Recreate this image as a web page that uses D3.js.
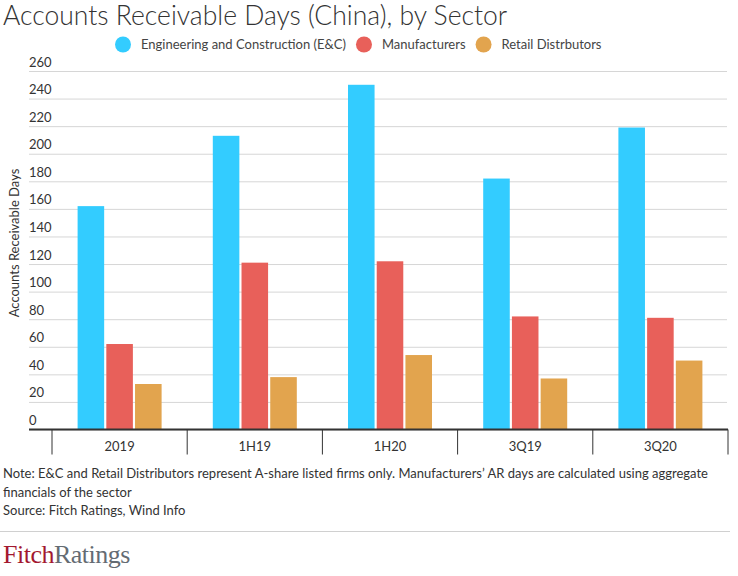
<!DOCTYPE html>
<html>
<script src="https://d3js.org/d3.v7.min.js"></script>

<head>
    <style>
        body {
            margin: 0;
            background-color: #fff;
            font-family: Lato, "Open Sans", sans-serif;
        }

        svg {
            display: block;
        }
    </style>
</head>

<body>
</body>
<script>
    const width = 738,
        height = 576;

    const periods = ["2019", "1H19", "1H20", "3Q19", "3Q20"];
    const series = ["Engineering and Construction (E&C)", "Manufacturers", "Retail Distrbutors"];
    const colors = ["#33ccff", "#e8605a", "#e2a44e"];
    const ecDays = [162, 213, 250, 182, 219];
    const mfrDays = [62, 121, 122, 82, 81];
    const retailDays = [33, 38, 54, 37, 50];
    const yTicks = [0, 20, 40, 60, 80, 100, 120, 140, 160, 180, 200, 220, 240, 260];

    const values = [ecDays, mfrDays, retailDays];
    const data = periods.map((p, i) => ({
        period: p,
        vals: series.map((s, j) => ({ key: s, value: values[j][i] }))
    }));

    const svg = d3.select("body").append("svg").attr("width", width).attr("height", height);

    const y = d3.scaleLinear()
        .domain([0, 260])
        .range([429.5, 71]);
    const x0 = d3.scaleBand()
        .domain(periods)
        .range([52, 728])
        .padding(0);
    const x1 = d3.scaleBand()
        .domain(series)
        .range([-42, 42])
        .paddingInner(0.075);
    const color = d3.scaleOrdinal().domain(series).range(colors);

    // title
    svg.append("text")
        .attr("x", 3)
        .attr("y", 25)
        .attr("font-size", "26.5px")
        .attr("font-weight", 300)
        .attr("fill", "#333")
        .text("Accounts Receivable Days (China), by Sector");

    // legend
    let lx = 115;
    series.forEach(s => {
        svg.append("circle")
            .attr("cx", lx + 8)
            .attr("cy", 44.5)
            .attr("r", 8)
            .attr("fill", color(s));
        const t = svg.append("text")
            .attr("x", lx + 26)
            .attr("y", 49)
            .attr("font-size", "13px")
            .attr("fill", "#444")
            .text(s);
        lx += 26 + t.node().getComputedTextLength() + 10;
    });

    // grid + y labels
    const yAxis = svg.append("g")
        .attr("transform", "translate(29,0)")
        .call(d3.axisRight(y).tickValues(yTicks).tickSize(698).tickFormat(d => d));
    yAxis.select(".domain").remove();
    yAxis.selectAll(".tick line").attr("stroke", "#d6d6d6");
    yAxis.selectAll(".tick text")
        .attr("x", 0)
        .attr("dy", -5)
        .attr("text-anchor", "start")
        .attr("font-family", "Lato, sans-serif")
        .attr("font-size", "13px")
        .attr("fill", "#333");

    svg.append("text")
        .attr("transform", "translate(19,243) rotate(-90)")
        .attr("text-anchor", "middle")
        .attr("font-size", "13px")
        .attr("fill", "#333")
        .text("Accounts Receivable Days");

    // bars
    const groups = svg.selectAll(".grp")
        .data(data)
        .join("g")
        .attr("class", "grp")
        .attr("transform", d => `translate(${x0(d.period) + x0.bandwidth() / 2},0)`);
    groups.selectAll("rect")
        .data(d => d.vals)
        .join("rect")
        .attr("x", d => x1(d.key))
        .attr("width", x1.bandwidth())
        .attr("y", d => y(d.value))
        .attr("height", d => y(0) - y(d.value))
        .attr("fill", d => color(d.key));

    // x axis
    const xAxis = svg.append("g")
        .attr("transform", `translate(0,${y(0)})`)
        .call(d3.axisBottom(x0).tickSize(0).tickPadding(12));
    xAxis.select(".domain").remove();
    xAxis.selectAll(".tick text")
        .attr("font-family", "Lato, sans-serif")
        .attr("font-size", "13px")
        .attr("fill", "#333");
    svg.append("line")
        .attr("x1", 29)
        .attr("x2", 728)
        .attr("y1", y(0))
        .attr("y2", y(0))
        .attr("stroke", "#333")
        .attr("stroke-width", 2);
    periods.concat([null]).forEach(p => {
        const bx = p ? x0(p) : x0.range()[1];
        svg.append("line")
            .attr("x1", bx)
            .attr("x2", bx)
            .attr("y1", y(0))
            .attr("y2", y(0) + 25)
            .attr("stroke", "#333")
            .attr("stroke-width", 1);
    });

    // notes
    const notes = [
        "Note: E&C and Retail Distributors represent A-share listed firms only. Manufacturers\u2019 AR days are calculated using aggregate",
        "financials of the sector",
        "Source: Fitch Ratings, Wind Info"
    ];
    notes.forEach((n, i) => {
        svg.append("text")
            .attr("x", 3)
            .attr("y", 478 + i * 18.5)
            .attr("font-size", "13px")
            .attr("fill", "#333")
            .text(n);
    });

    svg.append("line")
        .attr("x1", 0)
        .attr("x2", 730)
        .attr("y1", 531.5)
        .attr("y2", 531.5)
        .attr("stroke", "#d0d0d0");

    const logo = svg.append("text")
        .attr("x", 3)
        .attr("y", 563)
        .attr("font-family", "'Liberation Serif', 'DejaVu Serif', serif")
        .attr("font-size", "26px")
        .attr("letter-spacing", "-0.5px");
    logo.append("tspan").attr("fill", "#a3182f").text("Fitch");
    logo.append("tspan").attr("fill", "#646b73").text("Ratings");
</script>

</html>
